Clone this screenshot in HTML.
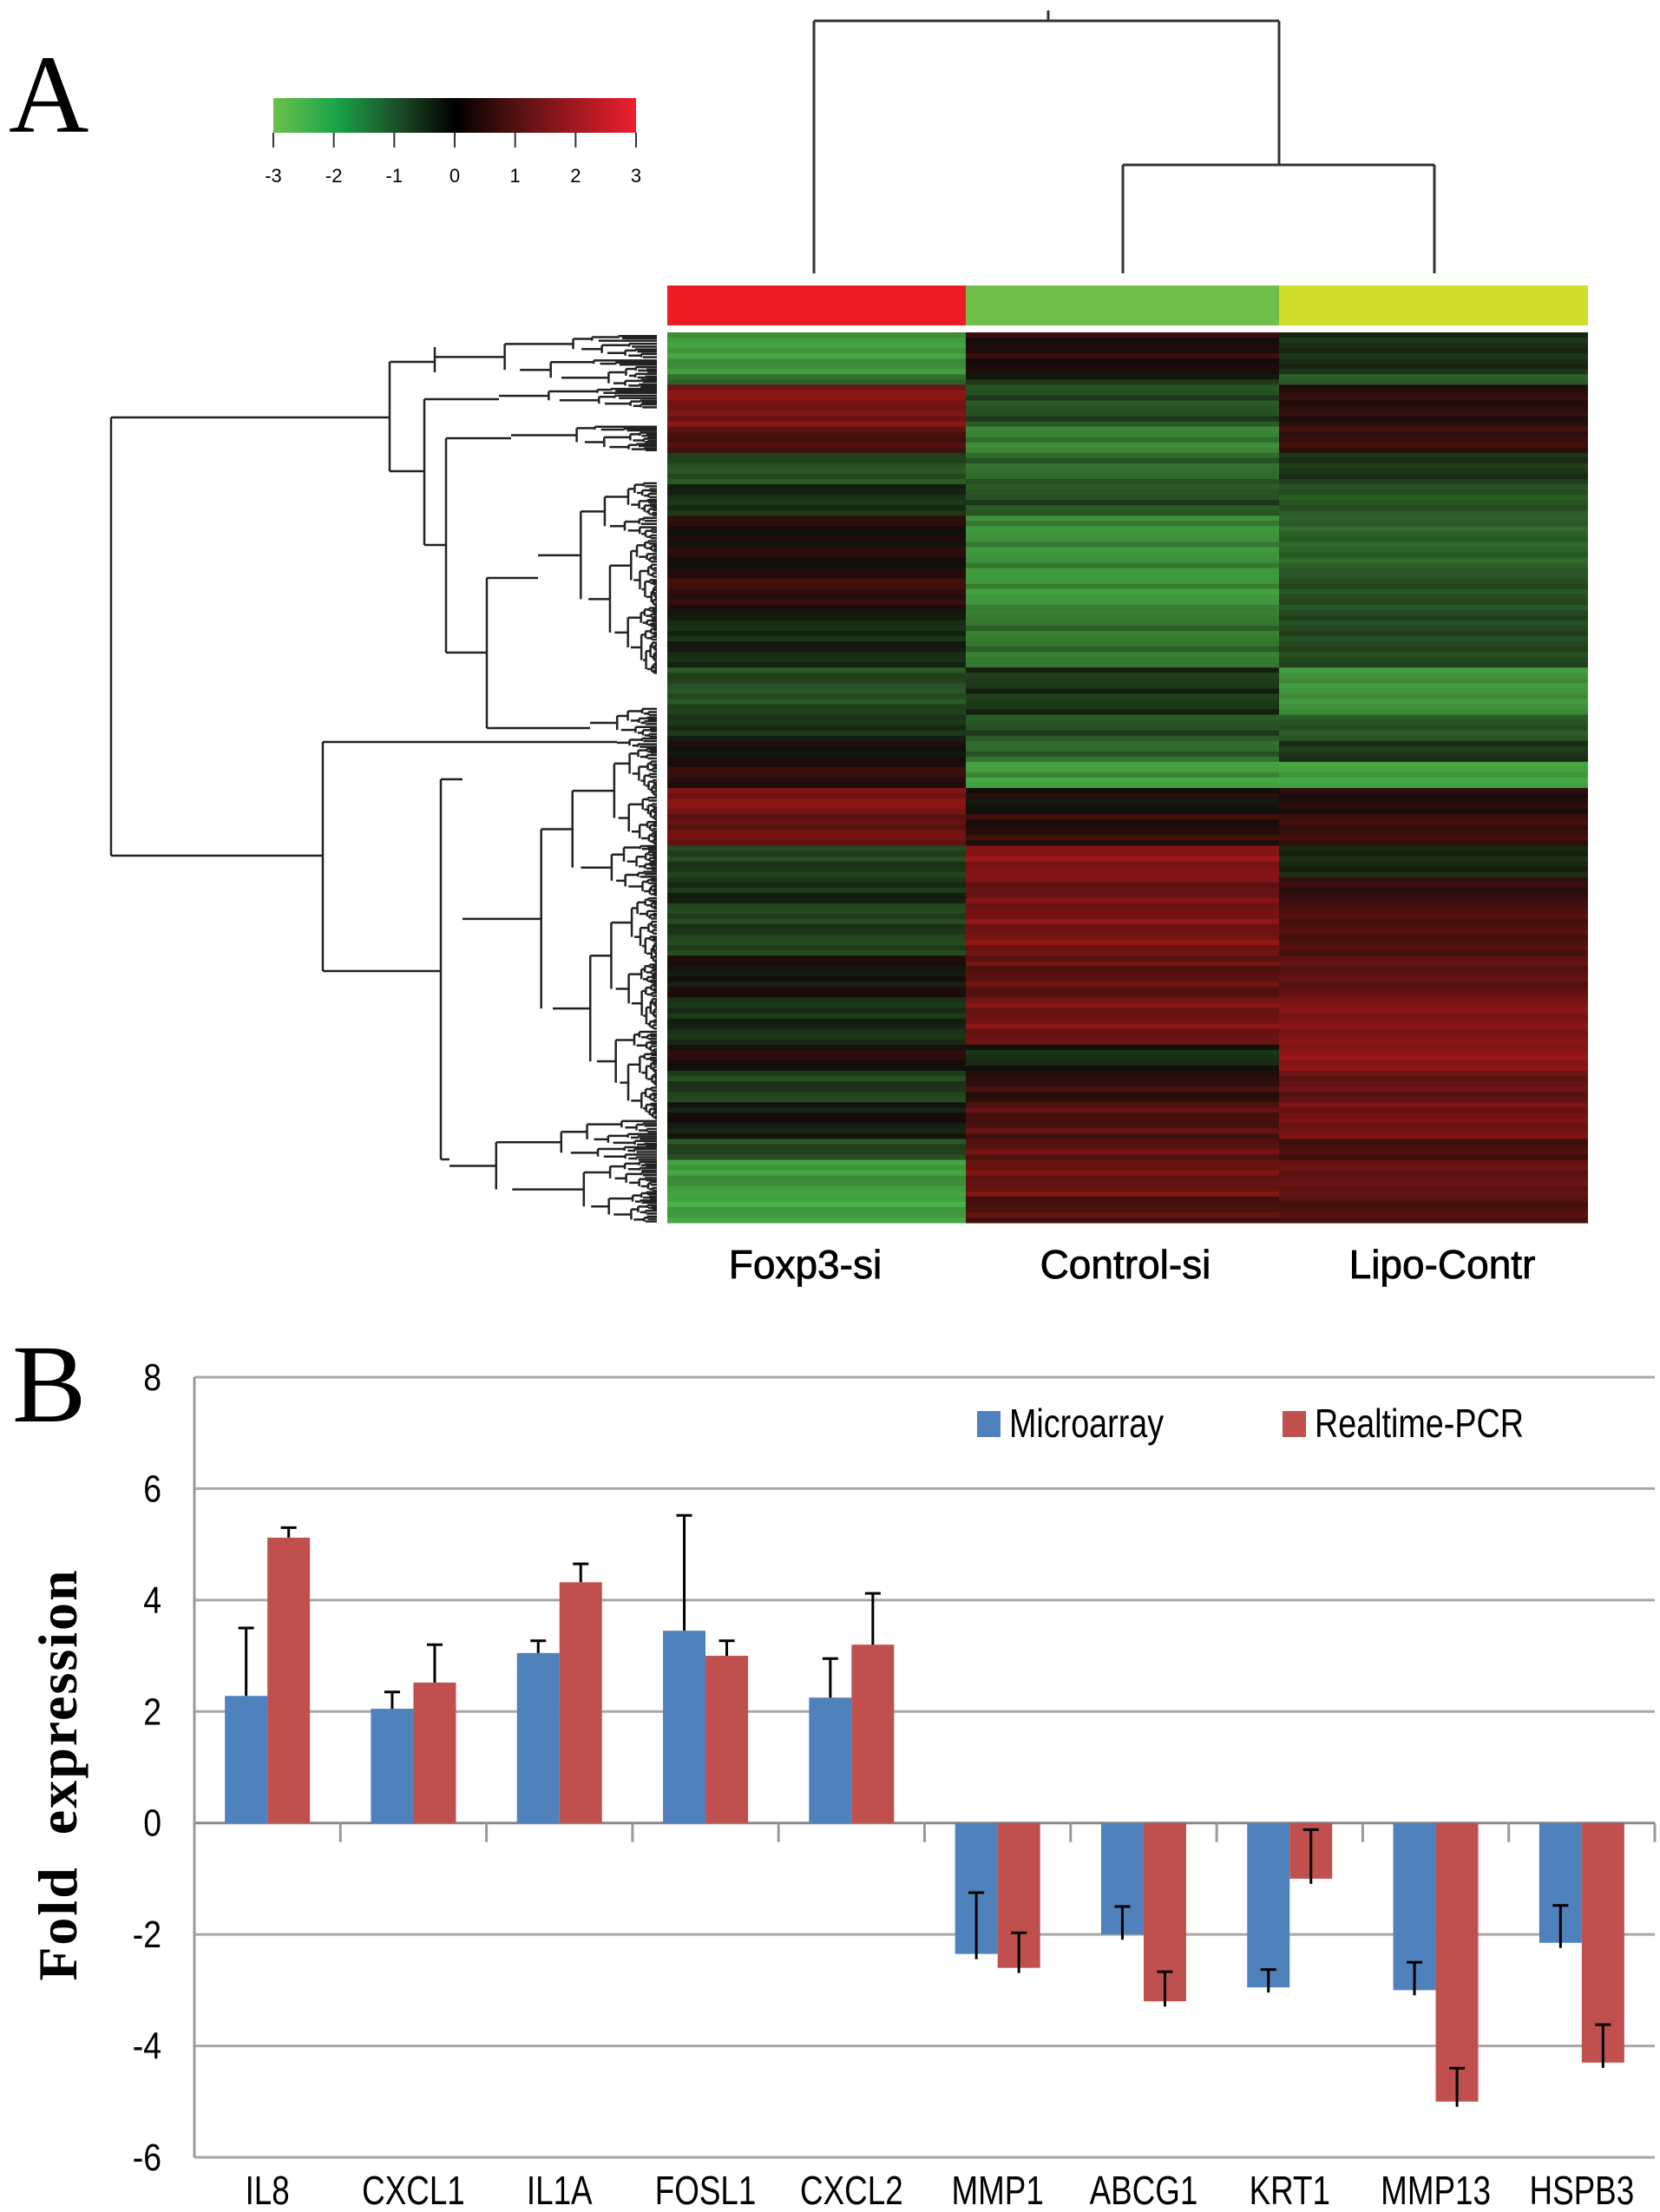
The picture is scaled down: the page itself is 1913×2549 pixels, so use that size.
<!DOCTYPE html>
<html><head><meta charset="utf-8"><style>
html,body{margin:0;padding:0;background:#fff;}
svg{display:block;}
.narrow{font-family:"Liberation Sans",sans-serif;}
</style></head><body>
<svg id="fig" width="1913" height="2549" viewBox="0 0 1913 2549" xmlns="http://www.w3.org/2000/svg">
<defs>
<linearGradient id="keyGrad" x1="0" x2="1" y1="0" y2="0">
<stop offset="0" stop-color="#6cc04a"/><stop offset="0.17" stop-color="#1aa64a"/><stop offset="0.35" stop-color="#1c4a26"/><stop offset="0.5" stop-color="#000"/><stop offset="0.65" stop-color="#4a1010"/><stop offset="0.83" stop-color="#a01820"/><stop offset="1" stop-color="#ee2030"/>
</linearGradient>
</defs>
<text x="10" y="152" font-family="Liberation Serif,serif" font-size="128">A</text>
<g>
<rect x="315" y="113" width="418" height="40" fill="url(#keyGrad)"/>
<g id="keyTicks"></g>
</g>
<g id="topDendro" stroke="#333" stroke-width="3" fill="none">
<path d="M1208 12 V24 M938 24 H1474 M938 24 V315 M1474 24 V190 M1294 190 H1653 M1294 190 V315 M1653 190 V315"/>
</g>
<rect x="769" y="329" width="344" height="46" fill="#ec1c24"/>
<rect x="1113" y="329" width="361" height="46" fill="#6fbf4a"/>
<rect x="1474" y="329" width="356" height="46" fill="#cfdf2a"/>
<g id="heat"></g>
<g id="leftDendro" stroke="#222" stroke-width="2.5" fill="none"></g>
<g font-family="Liberation Sans,sans-serif" font-size="46" text-anchor="middle" stroke="#000" stroke-width="0.8">
<text x="928" y="1473">Foxp3-si</text>
<text x="1297" y="1473">Control-si</text>
<text x="1662" y="1473">Lipo-Contr</text>
</g>

<text x="14" y="1638" font-family="Liberation Serif,serif" font-size="128">B</text>
<text transform="translate(88,2045) rotate(-90)" text-anchor="middle" font-family="Liberation Serif,serif" font-weight="bold" font-size="64" letter-spacing="2">Fold&#160;&#160;expression</text>
<g id="chart"></g>
<g>
<rect x="1126" y="1626" width="27" height="30" fill="#4f81bd"/>
<text class="narrow" transform="translate(1163,1656) scale(0.82,1)" font-size="46">Microarray</text>
<rect x="1478" y="1626" width="27" height="30" fill="#c0504d"/>
<text class="narrow" transform="translate(1515,1656) scale(0.82,1)" font-size="46">Realtime-PCR</text>
</g>
</svg>
<script>
const NS="http://www.w3.org/2000/svg";
// ---------- bar chart data ----------
const categories=["IL8","CXCL1","IL1A","FOSL1","CXCL2","MMP1","ABCG1","KRT1","MMP13","HSPB3"];
const microarray=[2.28,2.05,3.05,3.45,2.25,-2.35,-2.0,-2.95,-3.0,-2.15];
const microarrayErr=[1.22,0.3,0.22,2.07,0.7,1.1,0.5,0.32,0.5,0.67];
const pcr=[5.12,2.52,4.32,3.0,3.2,-2.6,-3.2,-1.0,-5.0,-4.3];
const pcrErr=[0.18,0.68,0.33,0.27,0.92,0.63,0.53,0.88,0.6,0.68];
const yTicks=[8,6,4,2,0,-2,-4,-6];
// ---------- heatmap data ----------
const bandStarts=[0,0.046,0.06,0.106,0.135,0.170,0.205,0.27,0.31,0.375,0.43,0.46,0.485,0.51,0.54,0.578,0.609,0.64,0.70,0.745,0.80,0.83,0.865,0.905,0.93,0.97];
const foxp3Vals=[-2.0,-1.2,1.6,1.0,-0.8,-0.3,0.3,0.6,-0.2,-0.8,-0.3,0.2,0.5,1.6,1.3,-0.6,-0.3,-0.6,0.1,-0.3,0.3,-0.6,0.0,-0.8,-2.0,-2.2];
const controlVals=[0.4,-0.3,-0.8,-1.6,-1.2,-0.8,-1.8,-1.9,-1.4,-0.4,-0.8,-1.2,-2.0,0.2,0.5,1.8,1.4,1.6,1.2,1.5,-0.2,0.6,1.0,1.2,1.4,1.0];
const lipoVals=[-0.4,-1.2,0.4,0.6,-0.5,-1.0,-1.2,-0.9,-0.8,-2.0,-1.0,-0.5,-2.2,0.3,0.6,-0.3,0.5,0.9,1.1,1.6,1.8,1.2,1.4,0.8,1.2,0.9];
const rowJitter=[0,0.35,-0.25,0.45,-0.35,0.15,-0.1,0.3,-0.4,0.2,0.05,-0.3];

function el(tag,attrs,parent){const e=document.createElementNS(NS,tag);for(const k in attrs)e.setAttribute(k,attrs[k]);parent.appendChild(e);return e;}

const keyG=document.getElementById('keyTicks');
const keyLabels=[-3,-2,-1,0,1,2,3];
keyLabels.forEach((v,i)=>{
  const x=315+(v+3)/6*418;
  const t=el('line',{x1:x,x2:x,y1:153,y2:170,stroke:'#333','stroke-width':2},keyG);
  
  
  const tx=el('text',{x:x,y:210,'text-anchor':'middle','font-family':'Liberation Sans,sans-serif','font-size':22},keyG);
  
  
  tx.textContent=v;
});

function col(v){v=Math.max(-3,Math.min(3,v));
  if(v>=0){const t=v/3;return `rgb(${Math.round(20+t*215)},${Math.round(12+t*18)},${Math.round(10+t*20)})`;}
  const t=-v/3;return `rgb(${Math.round(14+t*70)},${Math.round(14+t*190)},${Math.round(10+t*70)})`;}
const heat=document.getElementById('heat');
const hx=[769,1113,1474,1830], hy0=383, hy1=1409, nRows=170;
const colsData=[foxp3Vals,controlVals,lipoVals];
const colNames=['foxp3-si','control-si','lipo-contr'];
for(let r=0;r<nRows;r++){
  const f=(r+0.5)/nRows;
  let b=0;for(let i=0;i<bandStarts.length;i++){if(f>=bandStarts[i])b=i;}
  const y=hy0+r/nRows*(hy1-hy0), h=(hy1-hy0)/nRows+0.6;
  for(let c=0;c<3;c++){
    const v=colsData[c][b]+rowJitter[(r*(c+2)+c*5)%rowJitter.length];
    const rc=el('rect',{x:hx[c],y:y,width:hx[c+1]-hx[c],height:h,fill:col(v)},heat);
    
    
  }
}

const ld=document.getElementById('leftDendro');
let d="";
const LEAF=757;
const ratios=[0.45,0.3,0.6,0.5,0.35,0.55,0.4,0.65,0.5,0.25];
const steps=[0.35,0.5,0.25,0.45,0.3,0.55,0.4];
let ri=0;
function sub(x,y0,y1){
  if(y1-y0<4){d+=`M${x} ${(y0+y1)/2}H${LEAF}`;return (y0+y1)/2;}
  const r=ratios[ri%ratios.length], s=steps[ri%steps.length]; ri++;
  const ym=y0+(y1-y0)*r;
  const xc=x+(LEAF-x)*s*0.9;
  const a=sub(xc,y0,ym), b=sub(xc+(LEAF-xc)*0.1,ym,y1);
  d+=`M${xc} ${a}V${b}`;
  d+=`M${x} ${(a+b)/2}H${xc}`;
  return (a+b)/2;
}
function node(x,ya,yb,xa,xb){d+=`M${x} ${ya}V${yb}M${x} ${ya}H${xa}M${x} ${yb}H${xb}`;}
node(128,481,986,449,372);
node(449,417,543,501,489);
d+=`M501 400V429`;
sub(501,386,447);
node(489,460,628,575,514);
sub(575,447,471);
node(514,505,752,589,561);
sub(589,490,520);
node(561,666,839,620,680);
sub(620,555,777);
sub(680,815,850);
node(372,855,1119,711,508);
sub(711,850,862);
node(508,898,1336,533,518);
sub(533,862,1290);
sub(518,1290,1409);
const p=el('path',{d:d},ld);



const chart=document.getElementById('chart');
const X0=224,X1=1907,Ytop=1587,Ybot=2486,vmax=8,vmin=-6;
const yS=v=>Ytop+(vmax-v)/(vmax-vmin)*(Ybot-Ytop);
const cw=(X1-X0)/categories.length, bw=49;
yTicks.forEach(v=>{
  const y=yS(v);
  const g=el('line',{x1:X0,x2:X1,y1:y,y2:y,stroke:v===0?'#888':'#a8a8a8','stroke-width':3},chart);
  
  
  const t=el('text',{transform:`translate(186,${y+15}) scale(0.85,1)`,'text-anchor':'end','font-size':44,class:'narrow'},chart);
  
  
  t.textContent=v;
});
const ax=el('line',{x1:X0,x2:X0,y1:Ytop,y2:Ybot,stroke:'#999','stroke-width':3},chart);


for(let i=0;i<=categories.length;i++){
  const x=X0+i*cw;
  const tk=el('line',{x1:x,x2:x,y1:yS(0),y2:yS(0)+22,stroke:'#999','stroke-width':3},chart);
  
  
}
function bar(i,v,e,off,fill,name){
  const cx=X0+(i+0.5)*cw;
  const x=cx+off;
  const y0=yS(0),y1=yS(v);
  const r=el('rect',{x:x,y:Math.min(y0,y1),width:bw,height:Math.abs(y1-y0),fill:fill},chart);
  
  
  const mx=x+bw/2;
  let yb=v>=0?y1:y1+6, yc=yS(v+e);
  const eb=el('path',{d:`M${mx} ${yb}V${yc}M${mx-9} ${yc}H${mx+9}`,stroke:'#000','stroke-width':3,fill:'none'},chart);
  
  
}
categories.forEach((c,i)=>{
  bar(i,microarray[i],microarrayErr[i],-bw,'#4f81bd','bar-microarray');
  bar(i,pcr[i],pcrErr[i],0,'#c0504d','bar-pcr');
  const t=el('text',{transform:`translate(${X0+(i+0.5)*cw},2540) scale(0.8,1)`,'text-anchor':'middle','font-size':46,class:'narrow'},chart);
  
  
  t.textContent=c;
});
</script>
</body></html>
